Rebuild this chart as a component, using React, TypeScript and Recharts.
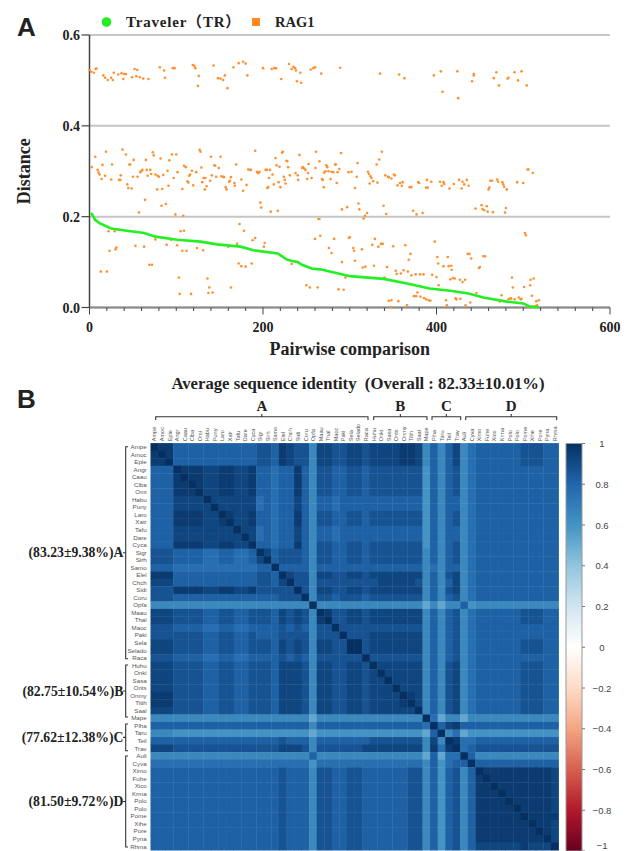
import React from "react";
import { BarChart, Bar, Scatter, ScatterChart, XAxis, YAxis, CartesianGrid } from "recharts";

const SERIF = '"Liberation Serif", "Noto Sans CJK SC", serif';
const SANS = '"Liberation Sans", sans-serif';

// Panel A: values, [pair index, distance]
const TR_LINE: [number, number][] = [
  [1.5, 0.208], [3, 0.205], [6.5, 0.193], [12, 0.185], [25, 0.174], [43, 0.169], [63, 0.164], [76, 0.156],
  [101, 0.149], [128, 0.145], [147, 0.139], [174, 0.134], [189, 0.126], [217, 0.119], [228, 0.105], [235, 0.102],
  [240, 0.1], [245, 0.094], [256, 0.086], [266, 0.084], [293, 0.072], [300, 0.069], [339, 0.063], [366, 0.053],
  [392, 0.042], [416, 0.037], [437, 0.031], [454, 0.022], [481, 0.013], [500, 0.009], [508, 0.002], [518, 0],
];

const RAG1_UPPER: [number, number][] = [
  [0, 0.523], [2, 0.519], [5, 0.517], [7, 0.525], [8, 0.526], [16, 0.511], [18, 0.506], [21, 0.501], [25, 0.506],
  [27, 0.501], [28, 0.517], [33, 0.513], [37, 0.516], [39, 0.503], [40, 0.514], [42, 0.514], [49, 0.507], [52, 0.525],
  [55, 0.523], [54, 0.509], [58, 0.507], [62, 0.504], [68, 0.503], [81, 0.529], [86, 0.522], [87, 0.506], [96, 0.527],
  [98, 0.527], [119, 0.534], [122, 0.527], [121, 0.532], [126, 0.51], [125, 0.488], [143, 0.533], [148, 0.505],
  [151, 0.504], [154, 0.501], [156, 0.511], [159, 0.483], [166, 0.529], [172, 0.538], [177, 0.541], [180, 0.537],
  [182, 0.511], [200, 0.527], [210, 0.525], [213, 0.527], [215, 0.527], [221, 0.503], [230, 0.536], [233, 0.525],
  [235, 0.53], [238, 0.522], [237, 0.527], [243, 0.517], [239, 0.498], [244, 0.495], [255, 0.524], [258, 0.527],
  [260, 0.529], [267, 0.515], [289, 0.528], [335, 0.515], [357, 0.513], [363, 0.505], [397, 0.511], [405, 0.52],
  [407, 0.475], [424, 0.52], [425, 0.461], [443, 0.511], [443, 0.514], [441, 0.498], [466, 0.505], [469, 0.518],
  [472, 0.489], [482, 0.504], [483, 0.506], [490, 0.518], [494, 0.5], [498, 0.52], [504, 0.489],
];

const RAG1_MIDDLE: [number, number][] = [
  [2.5, 0.309], [6.7, 0.332], [19, 0.343], [9.4, 0.303], [10.5, 0.297], [11.7, 0.293], [14, 0.283], [15, 0.314],
  [18, 0.29], [25, 0.282], [26, 0.315], [34, 0.281], [35.5, 0.281], [36, 0.291], [38, 0.348], [42, 0.337], [46, 0.315],
  [47, 0.315], [51, 0.325], [50, 0.288], [43.6, 0.271], [44.7, 0.263], [48.6, 0.262], [55.5, 0.288], [58.5, 0.298],
  [60, 0.301], [61, 0.303], [65, 0.325], [66, 0.303], [67, 0.29], [70, 0.303], [71, 0.294], [73, 0.342], [74, 0.335],
  [76, 0.293], [78.5, 0.29], [80, 0.288], [82, 0.328], [85, 0.292], [78, 0.26], [84, 0.261], [90, 0.301], [92, 0.324],
  [95, 0.337], [100, 0.337], [97, 0.285], [101.5, 0.298], [91, 0.268], [107, 0.261], [109, 0.312], [111, 0.309],
  [115, 0.29], [116, 0.293], [118, 0.301], [123, 0.298], [113, 0.278], [114, 0.275], [119.6, 0.269], [127, 0.347],
  [128, 0.343], [129, 0.308], [130, 0.276], [131.5, 0.285], [133.5, 0.285], [135, 0.267], [133, 0.26], [139, 0.279],
  [141, 0.291], [140, 0.332], [144, 0.313], [145, 0.312], [149, 0.307], [146, 0.288], [151, 0.332], [152, 0.289],
  [154, 0.288], [155, 0.287], [163, 0.287], [161, 0.277], [162, 0.279], [157, 0.265], [158, 0.26], [167, 0.274],
  [167.5, 0.268], [169, 0.315], [175, 0.282], [181, 0.27], [177, 0.257], [183, 0.304], [185, 0.303], [186, 0.303],
  [191, 0.345], [193, 0.299], [194, 0.296], [196, 0.299], [195, 0.296], [203, 0.303], [204.5, 0.303], [208, 0.303],
  [211, 0.293], [207, 0.285], [205, 0.263], [206, 0.265], [212.5, 0.271], [218, 0.276], [220, 0.265], [214.5, 0.329],
  [215.6, 0.313], [219, 0.31], [222, 0.341], [223, 0.343], [227, 0.323], [228, 0.322], [229, 0.309], [224, 0.288],
  [225, 0.281], [226, 0.273], [231, 0.291], [237.5, 0.296], [242, 0.336], [240, 0.291], [240.5, 0.281], [245, 0.307],
  [246, 0.309], [247.5, 0.306], [249, 0.303], [252, 0.296], [252.6, 0.316], [251, 0.283], [256, 0.285], [260.5, 0.307],
  [261, 0.343], [265, 0.322], [268, 0.283], [269, 0.281], [270, 0.265], [270.5, 0.297], [272, 0.3], [273, 0.313],
  [274, 0.309], [275.5, 0.3], [278, 0.283], [279, 0.299], [281, 0.298], [283, 0.315], [284, 0.315], [285, 0.274],
  [286, 0.298], [288, 0.305], [290, 0.34], [298.5, 0.298], [302, 0.299], [306, 0.263], [309, 0.318], [308, 0.288],
  [331, 0.315], [334, 0.326], [337, 0.343], [321, 0.299], [322, 0.294], [324, 0.289], [325, 0.285], [327, 0.278],
  [323, 0.273], [332, 0.275], [341, 0.291], [344, 0.288], [345, 0.287], [348, 0.284], [351, 0.293], [352, 0.291],
  [355, 0.269], [358, 0.274], [360, 0.268], [361, 0.276], [369, 0.265], [371, 0.265], [379, 0.276], [380, 0.274],
  [389, 0.281], [388, 0.264], [390, 0.264], [394, 0.277], [404, 0.277], [408, 0.276], [409, 0.272], [406, 0.268],
  [415, 0.262], [420, 0.272], [426, 0.281], [430, 0.277], [432, 0.271], [435, 0.281], [429, 0.262], [437, 0.268],
  [460, 0.26], [461, 0.264], [462, 0.279], [464, 0.279], [470, 0.282], [471, 0.277], [476, 0.276], [477, 0.271],
  [478, 0.266], [481, 0.26], [493, 0.276], [500, 0.274], [505, 0.304], [506, 0.304], [511, 0.296],
];

const RAG1_LOWER: [number, number][] = [
  [57, 0.209], [64, 0.237], [83, 0.224], [88, 0.228], [99, 0.205], [108, 0.202], [197, 0.231], [198, 0.22], [209, 0.211],
  [217, 0.213], [291, 0.216], [297, 0.221], [264, 0.195], [310, 0.229], [311, 0.216], [320, 0.208], [317.5, 0.202],
  [316, 0.196], [339, 0.224], [342, 0.206], [373, 0.213], [377, 0.205], [384, 0.208], [445, 0.218], [452, 0.225],
  [453, 0.217], [455, 0.214], [458, 0.223], [459, 0.211], [465, 0.21], [480, 0.219], [479, 0.209],
  [13, 0.079], [20, 0.079], [22, 0.168], [29, 0.168], [23, 0.125], [30, 0.128], [31, 0.132], [53, 0.136], [63, 0.134],
  [69, 0.094], [72, 0.094], [76, 0.15], [89, 0.138], [94, 0.149], [101, 0.137], [103, 0.066], [104, 0.03], [105, 0.168],
  [109, 0.169], [107, 0.125], [112, 0.125], [117, 0.03], [124, 0.131], [131, 0.126], [136, 0.064], [138, 0.044],
  [137, 0.032], [142, 0.033], [160, 0.134], [163, 0.044], [170, 0.14], [173, 0.184], [178, 0.169], [172, 0.097],
  [175, 0.091], [180, 0.09], [187, 0.097], [188, 0.148], [191, 0.153], [201, 0.134], [202, 0.142], [233, 0.096],
  [250, 0.049], [254, 0.044], [263, 0.044], [260, 0.151], [265, 0.195], [266, 0.158], [282, 0.151], [276, 0.131],
  [279, 0.12], [287, 0.04], [293, 0.039], [291, 0.1], [295, 0.066], [306, 0.103], [304, 0.131], [305, 0.125],
  [299, 0.153], [300, 0.155], [314, 0.128], [315, 0.088], [318, 0.09], [326, 0.138], [329, 0.151], [328, 0.092],
  [333, 0.134], [336, 0.14], [338, 0.14], [340, 0.066], [343, 0.089], [350, 0.135], [345, 0.015], [348, 0.016],
  [347, 0.001], [356, 0.014], [353, 0.081], [354, 0.074], [359, 0.075], [362, 0.082], [367, 0.079], [371, 0.071],
  [364, 0.137], [366, 0.005], [370, 0.118], [368, 0.105], [376, 0.073], [381, 0.073], [385, 0.073], [378, 0.033],
  [374, 0.025], [376.5, 0.025], [381.5, 0.024], [385.5, 0.021], [388, 0.018], [391, 0.016], [393, 0.015], [395, 0.072],
  [400, 0.067], [398, 0.145], [401, 0.111], [402, 0.097], [402.5, 0.049], [408, 0.091], [413, 0.111], [414, 0.091],
  [417, 0.092], [417.5, 0.083], [411, 0.016], [412, 0.005], [416, 0.062], [419, 0.065], [421, 0.064], [427, 0.061],
  [430, 0.056], [433, 0.061], [422, 0.02], [423, 0.018], [427.5, 0.019], [433.5, 0.005], [439, 0.011], [436, 0.118],
  [438, 0.118], [440, 0.108], [446, 0.032], [449, 0.087], [450, 0.089], [454, 0.113], [456, 0.113], [475, 0.027],
  [473, 0.013], [483, 0.018], [485, 0.02], [486, 0.02], [487, 0.066], [488, 0.044], [490, 0.018], [495, 0.022],
  [497, 0.018], [498, 0.019], [501, 0.045], [508, 0.049], [508.5, 0.061], [512, 0.064], [510, 0.026], [502, 0.164],
  [503, 0.159], [506, 0.002], [511, 0.002], [514, 0.003], [516, 0.005], [515, 0.014], [518, 0.016],
];

const Y_TICKS = [0, 0.2, 0.4, 0.6];
const X_TICKS = [
  0, 20, 40, 60, 80, 100, 120, 140, 160, 180, 200, 220, 240, 260, 280, 300, 320, 340, 360, 380, 400, 420, 440, 460, 480,
  500, 520, 540, 560, 580, 600,
];
const X_LABELLED = [0, 200, 400, 600];

// Panel B
const TAXA = [
  "Ampe", "Amoc", "Eple", "Angr", "Caau", "Clba", "Omi", "Habu", "Puny", "Laro", "Xatr", "Tafu", "Dare", "Cyca", "Sigr",
  "Sirh", "Samo", "Elel", "Chch", "Sidi", "Coru", "Opfa", "Maau", "Thal", "Maoc", "Paki", "Sela", "Selado", "Raca",
  "Huhu", "Onki", "Sasa", "Onts", "Onmy", "Titih", "Saal", "Mape", "Plha", "Taru", "Teil", "Trav", "Auli", "Cyva", "Ximo",
  "Fuhe", "Xico", "Krma", "Polo", "Polo", "Pome", "Xihe", "Pore", "Pyna", "Rhma",
];

// shade steps used by the matrix strings below
const LEVELS = [0.45, 0.52, 0.6, 0.65, 0.76, 0.82, 0.87, 0.92, 0.96, 1];

const MATRIX = [
  "988 55555555555 665 8766 3 7766776 7777887 3535734 55555566655",
  "898 55555555555 665 8766 3 7766776 7777887 3535734 55555566655",
  "889 55555555555 665 8766 3 7766776 7777887 3535734 55555566655",
  "555 98887788778 554 5585 3 6655665 6666666 2535634 55555555555",
  "555 89887788778 554 5585 3 6655665 6666666 2535634 55555555555",
  "555 88987788778 554 5585 3 6655665 6666666 2535634 55555555555",
  "555 88897788778 554 5585 3 6655665 6666666 2535634 55555555555",
  "555 77779777777 454 5575 3 5545555 5555555 2535534 55555555555",
  "555 77777977777 454 5575 3 5545555 5555555 2535534 55555555555",
  "555 88887798778 554 5585 3 6655665 6666666 2535634 55555555555",
  "555 88887789778 554 5585 3 6655665 6666666 2535634 55555555555",
  "555 77777777977 454 5575 3 5545555 5555555 2535534 55555555555",
  "555 77777777797 454 5575 3 5545555 5555555 2535534 55555555555",
  "555 88887788779 554 5585 3 6655665 6666666 2535634 55555555555",
  "666 55554455445 975 6665 3 6655665 6666666 3535634 55555555555",
  "666 55554455445 795 6665 3 6655665 6666666 3535634 55555555555",
  "555 44444444444 559 5555 3 5555555 5555555 3435534 55555555555",
  "888 55555555555 665 9766 3 7766776 7777777 3536734 55555555555",
  "777 55555555555 665 7966 3 6666666 6777776 3535734 55555555555",
  "666 88887788778 666 6696 3 7766776 7777777 3536734 55555555555",
  "666 55555555555 555 6669 3 6656665 6666666 3535634 55555555555",
  "333 33333333333 333 3333 9 3333333 3333333 1313352 33333333333",
  "777 66665566556 665 7676 3 9866776 7777777 3535634 55555566655",
  "777 66665566556 665 7676 3 8966776 7777777 3535634 55555566655",
  "666 55554455445 555 6565 3 6696666 6666666 3535634 55555555555",
  "666 66665566556 555 6666 3 6669666 7777777 3535634 55555555555",
  "777 66665566556 665 7676 3 7766996 7777777 3535634 55555566655",
  "777 66665566556 665 7676 3 7766996 7777777 3535634 55555566655",
  "666 55554455445 555 6565 3 6666669 6666666 3535634 55555555555",
  "777 66665566556 665 7776 3 7766776 9777777 3536734 55555566655",
  "777 66665566556 665 7776 3 7766776 7977777 3536734 55555566655",
  "777 66665566556 665 7776 3 7766776 7797777 3536734 55555566655",
  "777 66665566556 665 7776 3 7766776 7779777 3536734 55555566655",
  "888 66665566556 665 7776 3 7766776 7777987 3536734 55555566655",
  "888 66665566556 665 7776 3 7766776 7777897 3536734 55555566655",
  "777 66665566556 665 7776 3 7766776 7777779 3536734 55555566655",
  "333 33333333333 333 3333 1 3333333 3333333 9413313 33333333333",
  "555 55555555555 555 5555 3 5555555 5555555 4957855 55555555555",
  "333 22222222222 222 2222 1 2222222 2222222 1593412 22222222222",
  "555 55555555555 555 6555 3 5555555 6666666 3739844 55555555555",
  "777 66666666666 666 7776 3 6666667 7777777 3848945 66666666666",
  "333 33333333333 333 3333 5 3333333 3333333 1514495 33333333333",
  "444 44444444444 444 4444 2 4444444 4444444 3524559 55555555555",
  "555 55555555555 555 6555 3 6655665 5555566 3525635 98888888887",
  "555 55555555555 555 6555 3 6655665 5555566 3525635 89888888887",
  "555 55555555555 555 6555 3 6655665 5555566 3525635 88988888887",
  "555 55555555555 555 6555 3 6655665 5555566 3525635 88898888887",
  "555 55555555555 555 6555 3 6655665 5555566 3525635 88889888887",
  "555 55555555555 555 6555 3 6655665 5555566 3525635 88888988887",
  "555 55555555555 555 6555 3 6655665 5555566 3525635 88888898888",
  "555 55555555555 555 6555 3 6655665 5555566 3525635 88888889887",
  "555 55555555555 555 6555 3 6655665 5555566 3525635 88888888987",
  "555 55555555555 555 6555 3 6655665 5555566 3525635 88888888897",
  "555 55555555555 555 6555 3 6655665 5555566 3525635 77777787779",
];

const COLORBAR_TICKS = [1, 0.8, 0.6, 0.4, 0.2, 0, -0.2, -0.4, -0.6, -0.8, -1];
const RDBU = [
  "#67001F", "#B2182B", "#D6604D", "#F4A582", "#FDDBC7", "#FFFFFF", "#D1E5F0", "#92C5DE", "#4393C3", "#2166AC", "#053061",
];

const TOP_GROUPS = [
  { label: "A", x1: 155.7, x2: 368 },
  { label: "B", x1: 373.7, x2: 427 },
  { label: "C", x1: 432, x2: 460.7 },
  { label: "D", x1: 465.7, x2: 556.7 },
];
const LEFT_GROUPS = [
  { label: "(83.23±9.38%)A", y1: 446.7, y2: 658.7 },
  { label: "(82.75±10.54%)B", y1: 665, y2: 717 },
  { label: "(77.62±12.38%)C", y1: 724, y2: 750.7 },
  { label: "(81.50±9.72%)D", y1: 756, y2: 847 },
];

const HEAT_W = 408;
const HEAT_H = 407;
const N = TAXA.length;

function hexToRgb(hex: string) {
  return [1, 3, 5].map((i) => parseInt(hex.slice(i, i + 2), 16));
}

// corrplot style RdBu ramp over [-1, 1]
function rdbu(v: number) {
  const t = ((v + 1) / 2) * (RDBU.length - 1);
  const i = Math.min(Math.floor(t), RDBU.length - 2);
  const a = hexToRgb(RDBU[i]);
  const b = hexToRgb(RDBU[i + 1]);
  const c = a.map((p, k) => Math.round(p + (b[k] - p) * (t - i)));
  return `rgb(${c[0]},${c[1]},${c[2]})`;
}

const toPoints = (rows: [number, number][]) => rows.map(([x, y]) => ({ x, y }));
const ragPoints = toPoints([...RAG1_UPPER, ...RAG1_MIDDLE, ...RAG1_LOWER]);
const trPoints = toPoints(TR_LINE);

const heatCells = MATRIX.flatMap((row, r) => {
  const digits = row.replace(/ /g, "");
  return TAXA.map((_, c) => ({ x: c + 0.5, y: r + 0.5, v: LEVELS[Number(digits[c] ?? 5)] }));
});
const heatTicks = TAXA.map((_, i) => i + 0.5);

const XTick = (props: any) => {
  const { x, y, payload } = props;
  const major = X_LABELLED.includes(payload.value);
  return (
    <g>
      <line x1={x} x2={x} y1={y} y2={y + (major ? 7 : 3.5)} stroke="#444" strokeWidth={1} />
      {major && (
        <text x={x} y={y + 24.5} textAnchor="middle" fontFamily={SERIF} fontWeight="bold" fontSize={14} fill="#222">
          {payload.value}
        </text>
      )}
    </g>
  );
};

const YTick = (props: any) => {
  const { x, y, payload } = props;
  return (
    <g>
      <line x1={x - 8} x2={x} y1={y} y2={y} stroke="#444" strokeWidth={1.2} />
      <text x={x - 9.5} y={y + 5} textAnchor="end" fontFamily={SERIF} fontWeight="bold" fontSize={14} fill="#222">
        {payload.value.toFixed(1)}
      </text>
    </g>
  );
};

const RagDot = (props: any) => <circle cx={props.cx} cy={props.cy} r={1.3} fill="#FF9030" />;
const NoDot = () => <g />;

const HeatCell = (props: any) => (
  <rect
    x={props.cx - HEAT_W / N / 2 - 0.2}
    y={props.cy - HEAT_H / N / 2 - 0.2}
    width={HEAT_W / N + 0.4}
    height={HEAT_H / N + 0.4}
    fill={rdbu(props.payload.v)}
  />
);

const HeatXTick = (props: any) => {
  const { x, y, payload } = props;
  return (
    <text transform={`translate(${x + 2},${y - 2}) rotate(-90)`} fontFamily={SANS} fontSize={5.6} fill="#555">
      {TAXA[Math.floor(payload.value)]}
    </text>
  );
};

const HeatYTick = (props: any) => {
  const { x, y, payload } = props;
  return (
    <text x={x - 4} y={y + 2} textAnchor="end" fontFamily={SANS} fontSize={6.2} fill="#555">
      {TAXA[Math.floor(payload.value)]}
    </text>
  );
};

const BarTick = (props: any) => {
  const { x, y, payload } = props;
  const label = payload.value < 0 ? `−${Math.abs(payload.value)}` : `${payload.value}`;
  // the bottom label sits right on the page edge, so lift it to stay readable
  const lift = payload.value === -1 ? 6 : 0;
  return (
    <g>
      <line x1={x} x2={x + 3} y1={y} y2={y} stroke="#777" />
      <text x={x + 20} y={y + 3.5 - lift} textAnchor="middle" fontFamily={SANS} fontSize={9.5} fill="#444">
        {label}
      </text>
    </g>
  );
};

export default function App() {
  return (
    <div style={{ position: "absolute", left: 0, top: 0, width: 630, height: 851, overflow: "hidden", background: "#fff" }}>
      {/* Panel A */}
      <div style={{ position: "absolute", left: 0, top: 0 }}>
        <ScatterChart width={630} height={358} margin={{ top: 35, right: 20, bottom: 0.5, left: 17.5 }}>
          <CartesianGrid horizontal vertical={false} stroke="#c6c6c6" strokeWidth={2} syncWithTicks />
          <XAxis
            type="number"
            dataKey="x"
            domain={[0, 600]}
            ticks={X_TICKS}
            interval={0}
            height={50}
            tick={<XTick />}
            tickLine={false}
            tickSize={0}
            tickMargin={0}
            axisLine={{ stroke: "#8a8a8a", strokeWidth: 2 }}
            label={{
              value: "Pairwise comparison",
              position: "insideBottom",
              offset: 3,
              style: { fontFamily: SERIF, fontWeight: "bold", fontSize: 18, fill: "#222" },
            }}
          />
          <YAxis
            type="number"
            dataKey="y"
            domain={[0, 0.6]}
            ticks={Y_TICKS}
            interval={0}
            width={72}
            tick={<YTick />}
            tickLine={false}
            tickSize={0}
            tickMargin={0}
            axisLine={{ stroke: "#444", strokeWidth: 1.5 }}
            label={{
              value: "Distance",
              angle: -90,
              position: "insideLeft",
              offset: 6,
              style: { textAnchor: "middle", fontFamily: SERIF, fontWeight: "bold", fontSize: 18, fill: "#222" },
            }}
          />
          <Scatter data={ragPoints} shape={<RagDot />} isAnimationActive={false} />
          <Scatter
            data={trPoints}
            shape={<NoDot />}
            line={{ stroke: "#22F022", strokeWidth: 2.6 }}
            lineType="joint"
            isAnimationActive={false}
          />
        </ScatterChart>
      </div>

      {/* Panel B heatmap */}
      <div style={{ position: "absolute", left: 0, top: 420 }}>
        <ScatterChart width={630} height={431} margin={{ top: 3.3, right: 71.3, bottom: 0.7, left: 130.7 }}>
          <XAxis
            type="number"
            dataKey="x"
            orientation="top"
            domain={[0, N]}
            ticks={heatTicks}
            interval={0}
            height={20}
            tick={<HeatXTick />}
            tickLine={false}
            axisLine={false}
            tickSize={0}
            tickMargin={0}
          />
          <YAxis
            type="number"
            dataKey="y"
            reversed
            domain={[0, N]}
            ticks={heatTicks}
            interval={0}
            width={20}
            tick={<HeatYTick />}
            tickLine={false}
            axisLine={false}
            tickSize={0}
            tickMargin={0}
          />
          <Scatter data={heatCells} shape={<HeatCell />} isAnimationActive={false} />
        </ScatterChart>
      </div>

      {/* Panel B colour bar */}
      <div style={{ position: "absolute", left: 560, top: 430 }}>
        <BarChart
          width={70}
          height={421}
          data={[{ name: "identity", span: [-1, 1] }]}
          margin={{ top: 13.5, right: 0, bottom: 0, left: 6 }}
          barCategoryGap={0}
        >
          <defs>
            <linearGradient id="rdbu" x1="0" y1="1" x2="0" y2="0">
              {RDBU.map((c, i) => (
                <stop key={c} offset={`${(i / (RDBU.length - 1)) * 100}%`} stopColor={c} />
              ))}
            </linearGradient>
          </defs>
          <XAxis dataKey="name" hide />
          <YAxis
            orientation="right"
            type="number"
            domain={[-1, 1]}
            ticks={COLORBAR_TICKS}
            interval={0}
            width={48}
            tick={<BarTick />}
            tickLine={false}
            axisLine={false}
            tickSize={0}
            tickMargin={0}
          />
          <Bar dataKey="span" fill="url(#rdbu)" stroke="#999" strokeWidth={1} isAnimationActive={false} />
        </BarChart>
      </div>

      {/* Titles, legend and group brackets */}
      <svg width={630} height={851} style={{ position: "absolute", left: 0, top: 0, pointerEvents: "none" }}>
        <text x={17} y={36} fontFamily={SANS} fontWeight="bold" fontSize={26} fill="#222">A</text>
        <text x={17} y={408} fontFamily={SANS} fontWeight="bold" fontSize={26} fill="#222">B</text>

        <circle cx={106.5} cy={22} r={4.8} fill="#22EE22" />
        <text x={126} y={27} fontFamily={SERIF} fontWeight="bold" fontSize={15} letterSpacing={0.8} fill="#222">
          Traveler（TR）
        </text>
        <rect x={252} y={18} width={8} height={8} fill="#FF8A1E" />
        <text x={275} y={27} fontFamily={SERIF} fontWeight="bold" fontSize={14.5} fill="#222">RAG1</text>

        <text
          x={358}
          y={389}
          textAnchor="middle"
          fontFamily={SERIF}
          fontWeight="bold"
          fontSize={16.7}
          fill="#222"
          style={{ whiteSpace: "pre" }}
        >
          {"Average sequence identity  (Overall : 82.33±10.01%)"}
        </text>

        {TOP_GROUPS.map((g) => {
          const mid = (g.x1 + g.x2) / 2;
          return (
            <g key={g.label}>
              <path
                d={`M${g.x1} 420V416.7H${g.x2}V420M${mid} 416.7V414`}
                fill="none"
                stroke="#333"
                strokeWidth={1.1}
              />
              <text x={mid} y={411} textAnchor="middle" fontFamily={SERIF} fontWeight="bold" fontSize={15} fill="#222">
                {g.label}
              </text>
            </g>
          );
        })}

        {LEFT_GROUPS.map((g) => {
          const mid = (g.y1 + g.y2) / 2;
          return (
            <g key={g.label}>
              <path
                d={`M128 ${g.y1}H125.7V${g.y2}H128M125.7 ${mid}H123`}
                fill="none"
                stroke="#333"
                strokeWidth={1.1}
              />
              <text x={123.5} y={mid + 4.5} textAnchor="end" fontFamily={SERIF} fontWeight="bold" fontSize={13.7} fill="#222">
                {g.label}
              </text>
            </g>
          );
        })}
      </svg>
    </div>
  );
}
